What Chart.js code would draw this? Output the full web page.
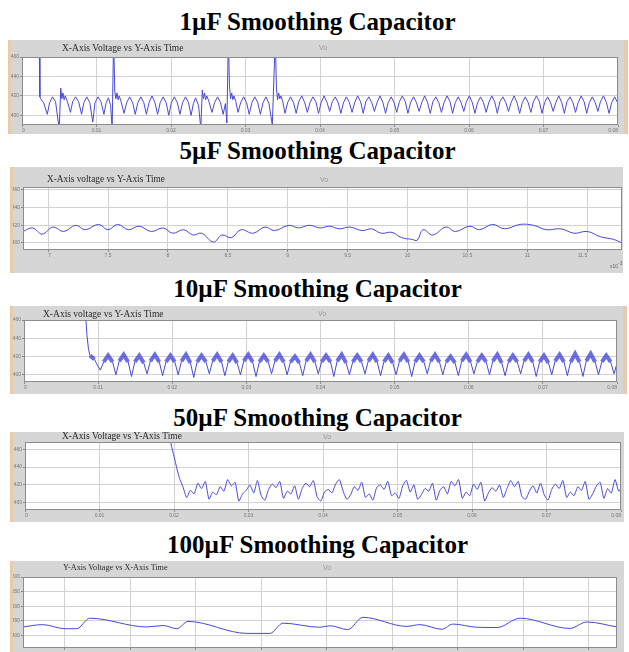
<!DOCTYPE html>
<html>
<head>
<meta charset="utf-8">
<script src="https://cdn.jsdelivr.net/npm/chart.js@4.4.0/dist/chart.umd.min.js"></script>
<style>
  body{margin:0;background:#fff;width:629px;height:652px;overflow:hidden;position:relative;}
  .ttl{position:absolute;left:3px;width:629px;text-align:center;font:bold 25px/25px "Liberation Serif",serif;color:#000;}
  canvas{position:absolute;background:#d6d6d6;}
  .tan{position:absolute;background:#e8cbad;}
</style>
</head>
<body>
<div class="ttl" style="top:9px">1µF Smoothing Capacitor</div>
<div class="ttl" style="top:138px">5µF Smoothing Capacitor</div>
<div class="ttl" style="top:276px">10µF Smoothing Capacitor</div>
<div class="ttl" style="top:405px">50µF Smoothing Capacitor</div>
<div class="ttl" style="top:532px">100µF Smoothing Capacitor</div>

<div class="tan" style="left:8px;top:40px;width:3px;height:94px"></div>
<div class="tan" style="left:624px;top:40px;width:4px;height:94px"></div>
<div class="tan" style="left:10px;top:167px;width:3px;height:106px"></div>
<div class="tan" style="left:10px;top:306px;width:3px;height:88px"></div>
<div class="tan" style="left:623px;top:306px;width:4px;height:88px"></div>
<div class="tan" style="left:10px;top:432px;width:3px;height:90px"></div>
<div class="tan" style="left:10px;top:561px;width:3px;height:91px"></div>

<canvas id="c1" width="613" height="94" style="left:11px;top:40px"></canvas>
<canvas id="c2" width="610" height="106" style="left:13px;top:167px"></canvas>
<canvas id="c3" width="610" height="88" style="left:13px;top:306px"></canvas>
<canvas id="c4" width="611" height="90" style="left:13px;top:432px"></canvas>
<canvas id="c5" width="611" height="91" style="left:13px;top:561px"></canvas>

<script>
// time in ms, voltage in V
const msTicks = [0, 10, 20, 30, 40, 50, 60, 70, 80];
const msLabels = ['0', '0.01', '0.02', '0.03', '0.04', '0.05', '0.06', '0.07', '0.08'];
const voltTicks = [400, 420, 440, 460];
const voltLabels = ['400', '420', '440', '460'];

// 1uF
const c1Time = [
  2.3, 2.4, 2.6, 2.9, 3.4, 3.7, 4.1, 4.5, 5.0, 5.2, 5.35, 5.5, 5.65, 5.8, 6.1, 6.5, 6.8, 7.2, 7.6, 8.0,
  8.3, 8.7, 9.1, 9.5, 9.8, 10.2, 10.6, 11.0, 11.3, 11.6, 11.9, 12.1, 12.3, 12.45, 12.6, 12.75, 12.9, 13.05, 13.3, 13.7,
  14.05, 14.45, 14.85, 15.2, 15.55, 15.95, 16.35, 16.7, 17.05, 17.45, 17.85, 18.2, 18.55, 18.95, 19.35, 19.7,
  20.05, 20.45, 20.85, 21.2, 21.55, 21.95, 22.35, 22.7, 23.0, 23.3, 23.7, 24.0, 24.2, 24.35, 24.5, 24.65, 24.8, 25.1, 25.5,
  25.85, 26.25, 26.65, 27.0, 27.3, 27.5, 27.7, 27.85, 28.0, 28.15, 28.3, 28.45, 28.7, 29.0,
  29.35, 29.75, 30.15, 30.5, 30.85, 31.25, 31.65, 32.0, 32.35, 32.75, 33.15, 33.6, 34.0, 34.15, 34.3, 34.45, 34.6, 34.75, 35.0, 35.3,
  35.65, 36.05, 36.45, 36.8, 37.15, 37.55, 37.95, 38.3, 38.65, 39.05, 39.45, 39.8, 40.15, 40.55, 40.95, 41.3,
  41.65, 42.05, 42.45, 42.8, 43.15, 43.55, 43.95, 44.3, 44.65, 45.05, 45.45, 45.8, 46.15, 46.55, 46.95, 47.3,
  47.65, 48.05, 48.45, 48.8, 49.15, 49.55, 49.95, 50.3, 50.65, 51.05, 51.45, 51.8, 52.15, 52.55, 52.95, 53.3,
  53.65, 54.05, 54.45, 54.8, 55.15, 55.55, 55.95, 56.3, 56.65, 57.05, 57.45, 57.8, 58.15, 58.55, 58.95, 59.3,
  59.65, 60.05, 60.45, 60.8, 61.15, 61.55, 61.95, 62.3, 62.65, 63.05, 63.45, 63.8, 64.15, 64.55, 64.95, 65.3,
  65.65, 66.05, 66.45, 66.8, 67.15, 67.55, 67.95, 68.3, 68.65, 69.05, 69.45, 69.8, 70.15, 70.55, 70.95, 71.3,
  71.65, 72.05, 72.45, 72.8, 73.15, 73.55, 73.95, 74.3, 74.65, 75.05, 75.45, 75.8, 76.15, 76.55, 76.95, 77.3,
  77.65, 78.05, 78.45, 78.8, 79.15, 79.55, 79.95, 80.3
];
const c1Volt = [
  480, 419, 416, 413, 401, 413, 419, 414, 386, 428, 417, 423, 416, 420, 414, 403, 414, 419, 414, 401,
  413, 419, 413, 393, 413, 419, 414, 401, 413, 418, 410, 386, 480, 425, 417, 423, 416, 420, 414, 402,
  413, 419, 413, 401, 413, 419, 413, 401, 413, 420, 413, 401, 413, 419, 413, 400,
  413, 419, 413, 401, 413, 419, 413, 400, 412, 418, 410, 387, 426, 417, 423, 416, 420, 414, 403,
  413, 419, 413, 401, 412, 392, 480, 430, 417, 423, 416, 420, 414, 403,
  413, 419, 413, 401, 413, 419, 413, 401, 413, 419, 412, 390, 480, 428, 416, 423, 417, 420, 414, 402,
  413, 419, 413, 402, 414, 420, 413, 403, 413, 419, 414, 402, 413, 420, 413, 404,
  414, 419, 413, 402, 413, 419, 413, 403, 413, 420, 414, 402, 414, 419, 413, 404,
  413, 420, 413, 402, 413, 419, 413, 403, 414, 420, 414, 402, 413, 419, 413, 404,
  413, 420, 413, 402, 414, 419, 413, 403, 413, 420, 414, 402, 413, 419, 413, 404,
  414, 420, 413, 402, 413, 419, 413, 403, 413, 420, 414, 402, 414, 419, 413, 404,
  413, 420, 413, 402, 413, 419, 413, 403, 414, 420, 414, 402, 413, 419, 413, 404,
  413, 420, 413, 402, 414, 419, 413, 403, 413, 420, 414, 402, 413, 419, 413, 404,
  414, 420, 413, 402, 413, 419, 413, 403
];

// 5uF (time axis in units of 1e-3 s)
const c2Ticks = [7, 7.5, 8, 8.5, 9, 9.5, 10, 10.5, 11, 11.5];
const c2Labels = ['7', '7.5', '8', '8.5', '9', '9.5', '10', '10.5', '11', '11.5'];
const c2Time = [
  6.79, 6.87, 6.95, 7.04, 7.13, 7.23, 7.31, 7.42, 7.50, 7.58, 7.67, 7.76, 7.86, 7.96, 8.04, 8.13, 8.21, 8.28, 8.38, 8.45,
  8.53, 8.61, 8.71, 8.81, 8.89, 9.01, 9.09, 9.18, 9.27, 9.35, 9.43, 9.52, 9.62, 9.70, 9.78, 9.87, 9.95, 10.04, 10.08, 10.13,
  10.21, 10.32, 10.40, 10.52, 10.60, 10.71, 10.81, 10.94, 11.05, 11.16, 11.28, 11.39, 11.50, 11.61, 11.72, 11.79
];
const c2Volt = [
  413, 417, 410, 418, 413, 420, 415, 421, 415, 421, 415, 419, 413, 417, 411, 415, 409, 411, 401, 409,
  406, 415, 411, 418, 414, 420, 417, 420, 417, 419, 416, 418, 414, 416, 411, 412, 406, 404, 403, 415,
  409, 418, 413, 419, 415, 421, 416, 421, 420, 415, 416, 411, 413, 407, 404, 400
];

// 10uF
const c3Time = [
  8.2, 8.35, 8.5, 8.7, 8.9, 9.2, 9.5, 9.8, 10.3,
  10.75, 11.35, 11.95, 12.4, 12.85, 13.45, 14.05, 14.5, 14.95, 15.55, 16.15, 16.6, 17.05, 17.65, 18.25, 18.7,
  19.15, 19.75, 20.35, 20.8, 21.25, 21.85, 22.45, 22.9, 23.35, 23.95, 24.55, 25.0, 25.45, 26.05, 26.65, 27.1,
  27.55, 28.15, 28.75, 29.2, 29.65, 30.25, 30.85, 31.3, 31.75, 32.35, 32.95, 33.4, 33.85, 34.45, 35.05, 35.5,
  35.95, 36.55, 37.15, 37.6, 38.05, 38.65, 39.25, 39.7, 40.15, 40.75, 41.35, 41.8, 42.25, 42.85, 43.45, 43.9,
  44.35, 44.95, 45.55, 46.0, 46.45, 47.05, 47.65, 48.1, 48.55, 49.15, 49.75, 50.2, 50.65, 51.25, 51.85, 52.3,
  52.75, 53.35, 53.95, 54.4, 54.85, 55.45, 56.05, 56.5, 56.95, 57.55, 58.15, 58.6, 59.05, 59.65, 60.25, 60.7,
  61.15, 61.75, 62.35, 62.8, 63.25, 63.85, 64.45, 64.9, 65.35, 65.95, 66.55, 67.0, 67.45, 68.05, 68.65, 69.1,
  69.55, 70.15, 70.75, 71.2, 71.65, 72.25, 72.85, 73.3, 73.75, 74.35, 74.95, 75.4, 75.85, 76.45, 77.05, 77.5,
  77.95, 78.55, 79.15, 79.6, 80.05, 80.65
];
const c3Volt = [
  480, 460, 443, 428, 421, 419, 417, 412, 405,
  414, 421, 414, 400, 415, 422, 414, 398, 414, 421, 413, 401, 415, 422, 414, 399,
  414, 421, 414, 400, 415, 422, 413, 397, 414, 421, 414, 401, 415, 422, 414, 399,
  414, 421, 413, 400, 415, 422, 414, 398, 414, 421, 414, 401, 415, 422, 414, 400,
  414, 420, 413, 399, 415, 422, 414, 401, 414, 421, 414, 398, 415, 422, 413, 400,
  414, 421, 414, 401, 415, 422, 414, 399, 414, 421, 413, 400, 415, 422, 414, 398,
  414, 421, 414, 401, 415, 422, 414, 400, 414, 420, 413, 399, 415, 422, 414, 401,
  414, 421, 414, 400, 415, 422, 413, 399, 414, 421, 414, 401, 415, 422, 414, 398,
  414, 421, 413, 400, 415, 422, 414, 399, 414, 423, 414, 398, 415, 423, 414, 400,
  414, 421, 414, 401, 414, 420
];

// 50uF
const c4Time = [
  0, 0.05, 19.4, 19.6, 20.0, 20.4, 20.8, 21.2,
  21.7, 22.2, 22.7, 23.2, 23.7, 24.2, 24.7, 25.2, 25.7, 26.2,
  26.7, 27.2, 27.7, 28.2, 28.7, 29.2, 29.7, 30.2, 30.7, 31.2,
  31.7, 32.2, 32.7, 33.2, 33.7, 34.2, 34.7, 35.2, 35.7, 36.2,
  36.7, 37.2, 37.7, 38.2, 38.7, 39.2, 39.7, 40.2, 40.7, 41.2,
  41.7, 42.2, 42.7, 43.2, 43.7, 44.2, 44.7, 45.2, 45.7, 46.2,
  46.7, 47.2, 47.7, 48.2, 48.7, 49.2, 49.7, 50.2, 50.7, 51.2,
  51.7, 52.2, 52.7, 53.2, 53.7, 54.2, 54.7, 55.2, 55.7, 56.2,
  56.7, 57.2, 57.7, 58.2, 58.7, 59.2, 59.7, 60.2, 60.7, 61.2,
  61.7, 62.2, 62.7, 63.2, 63.7, 64.2, 64.7, 65.2, 65.7, 66.2,
  66.7, 67.2, 67.7, 68.2, 68.7, 69.2, 69.7, 70.2, 70.7, 71.2,
  71.7, 72.2, 72.7, 73.2, 73.7, 74.2, 74.7, 75.2, 75.7, 76.2,
  76.7, 77.2, 77.7, 78.2, 78.7, 79.2, 79.7, 80.2
];
const c4Volt = [
  380, 490, 490, 466, 452, 438, 426, 418,
  406, 414, 410, 422, 416, 424, 404, 412, 409, 418,
  413, 426, 419, 423, 402, 410, 414, 420, 411, 425,
  408, 403, 415, 421, 417, 424, 405, 413, 410, 419,
  404, 416, 422, 418, 425, 407, 402, 412, 415, 411,
  421, 426, 413, 404, 409, 418, 414, 423, 406, 410,
  403, 417, 420, 415, 424, 408, 411, 405, 419, 425,
  412, 420, 404, 409, 416, 413, 422, 403, 414, 418,
  410, 424, 419, 426, 405, 412, 408, 421, 415, 423,
  402, 411, 417, 413, 420, 406, 416, 425, 418, 424,
  407, 404, 413, 419, 411, 422, 409, 403, 415, 421,
  416, 425, 406, 412, 408, 418, 414, 424, 404, 410,
  419, 423, 405, 416, 411, 426, 413, 420
];

// 100uF (x in grid divisions)
const c5Ticks = [1, 2, 3, 4, 5, 6, 7, 8, 9];
const c5VoltTicks = [400, 450, 500, 550, 600];
const c5VoltLabels = ['400', '450', '500', '550', '600'];
const c5Time = [0.36, 0.66, 1.0, 1.18, 1.38, 2.25, 2.5, 2.71, 2.88, 3.78, 4.13, 4.33, 4.89, 5.05, 5.32, 5.55, 6.22, 6.42, 6.76, 6.92, 7.29, 7.6, 7.95, 8.71, 8.97, 9.43];
const c5Volt = [429, 437, 423, 423, 459, 429, 434, 423, 448, 407, 407, 442, 428, 433, 420, 462, 431, 437, 421, 439, 428, 427, 459, 424, 446, 429];

const panelDeco = {
  id: 'panelDeco',
  beforeDraw(chart) {
    const a = chart.chartArea, c = chart.ctx;
    c.save();
    c.fillStyle = '#ffffff';
    c.fillRect(a.left, a.top, a.right - a.left, a.bottom - a.top);
    c.restore();
  },
  afterDraw(chart, args, o) {
    const a = chart.chartArea, c = chart.ctx;
    c.save();
    c.strokeStyle = '#8c8c8c';
    c.lineWidth = 1;
    c.strokeRect(a.left + 0.5, a.top + 0.5, a.right - a.left - 1, a.bottom - a.top - 1);
    c.textBaseline = 'middle';
    c.fillStyle = '#2a2a2a';
    c.font = o.titleSize + 'px "Liberation Serif", serif';
    c.fillText(o.title, o.tx, o.ty);
    c.fillStyle = '#999';
    c.font = '7px "Liberation Sans", sans-serif';
    c.fillText('Vo', o.vx, o.ty);
    if (o.exp) {
      c.fillStyle = '#666';
      c.font = '5px "Liberation Sans", sans-serif';
      c.fillText('x10', o.exp[0], o.exp[1]);
      c.fillText('-3', o.exp[0] + 8, o.exp[1] - 3);
    }
    c.restore();
  }
};

function makePanel(id, p) {
  const pts = p.time.map((t, i) => ({x: t, y: p.volt[i]}));
  const tickFont = {size: 5, family: 'Liberation Sans'};
  return new Chart(document.getElementById(id), {
    type: 'line',
    data: {datasets: [{
      data: pts,
      borderColor: '#4848d8',
      borderWidth: 1,
      pointRadius: 0,
      tension: p.tension || 0,
      cubicInterpolationMode: p.mono ? 'monotone' : 'default',
      segment: p.segment || {}
    }]},
    options: {
      responsive: false,
      animation: false,
      devicePixelRatio: 1,
      layout: {padding: {top: p.pad[1], right: p.pad[2], left: 0, bottom: 0}},
      plugins: {
        legend: {display: false},
        tooltip: {enabled: false},
        panelDeco: p.deco
      },
      scales: {
        x: {
          type: 'linear', min: p.xMin, max: p.xMax,
          afterBuildTicks: s => { s.ticks = p.xTicks.filter(v => v >= p.xMin && v <= p.xMax).map(v => ({value: v})); },
          afterFit: s => { s.height = p.pad[3]; },
          grid: {color: '#d2d2d2', tickLength: 2, tickColor: '#8c8c8c'},
          border: {display: false},
          ticks: {display: !!p.xLabels, font: tickFont, color: '#777', padding: 1, maxRotation: 0, autoSkip: false, align: 'inner',
            callback: (v, i) => p.xLabels ? p.xLabels[p.xTicks.indexOf(v)] : ''}
        },
        y: {
          min: p.yMin, max: p.yMax,
          afterBuildTicks: s => { s.ticks = p.yTicks.map(v => ({value: v})); },
          afterFit: s => { s.width = p.pad[0]; },
          grid: {color: '#d2d2d2', tickLength: 2, tickColor: '#8c8c8c'},
          border: {display: false},
          ticks: {font: tickFont, color: '#777', padding: 1,
            callback: (v) => p.yLabels[p.yTicks.indexOf(v)]}
        }
      }
    },
    plugins: [panelDeco]
  });
}

const bandOn = ctx => ctx.p0.parsed.y >= 413 && ctx.p1.parsed.y >= 413 && ctx.p0.parsed.y <= 425 && ctx.p1.parsed.y <= 425;

makePanel('c1', {
  time: c1Time, volt: c1Volt, xMin: 0, xMax: 80, xTicks: msTicks, xLabels: msLabels,
  yMin: 390, yMax: 460, yTicks: voltTicks, yLabels: voltLabels, pad: [11, 17, 6, 9],
  deco: {title: 'X-Axis Voltage vs Y-Axis Time', titleSize: 9.5, tx: 51, ty: 8, vx: 308}
});
makePanel('c2', {
  time: c2Time, volt: c2Volt, xMin: 6.79, xMax: 11.79, xTicks: c2Ticks, xLabels: c2Labels,
  yMin: 392, yMax: 463.4, yTicks: voltTicks, yLabels: voltLabels, pad: [10, 20, 1, 23], tension: 0.4,
  deco: {title: 'X-Axis voltage vs Y-Axis Time', titleSize: 9.3, tx: 34, ty: 13, vx: 307, exp: [597, 100]}
});
makePanel('c3', {
  time: c3Time, volt: c3Volt, xMin: 0, xMax: 80, xTicks: msTicks, xLabels: msLabels,
  yMin: 392, yMax: 460, yTicks: voltTicks, yLabels: voltLabels, pad: [11, 14, 6, 12],
  segment: {
    borderWidth: ctx => bandOn(ctx) ? 4 : 1,
    borderColor: ctx => bandOn(ctx) ? 'rgba(72,72,220,0.8)' : '#4848d8'
  },
  deco: {title: 'X-Axis voltage vs Y-Axis Time', titleSize: 9.5, tx: 30, ty: 8, vx: 305}
});
makePanel('c4', {
  time: c4Time, volt: c4Volt, xMin: 0, xMax: 80, xTicks: msTicks, xLabels: msLabels,
  yMin: 392, yMax: 468, yTicks: voltTicks, yLabels: voltLabels, pad: [12, 10, 3, 12], tension: 0.2,
  deco: {title: 'X-Axis Voltage vs Y-Axis Time', titleSize: 9.4, tx: 49, ty: 5, vx: 310}
});
makePanel('c5', {
  time: c5Time, volt: c5Volt, xMin: 0.36, xMax: 9.43, xTicks: c5Ticks, xLabels: null,
  yMin: 357, yMax: 600, yTicks: c5VoltTicks, yLabels: c5VoltLabels, pad: [10, 16, 7, 2], tension: 0.4, mono: true,
  deco: {title: 'Y-Axis Voltage vs X-Axis Time', titleSize: 8.2, tx: 50, ty: 7, vx: 310}
});
</script>
</body>
</html>
